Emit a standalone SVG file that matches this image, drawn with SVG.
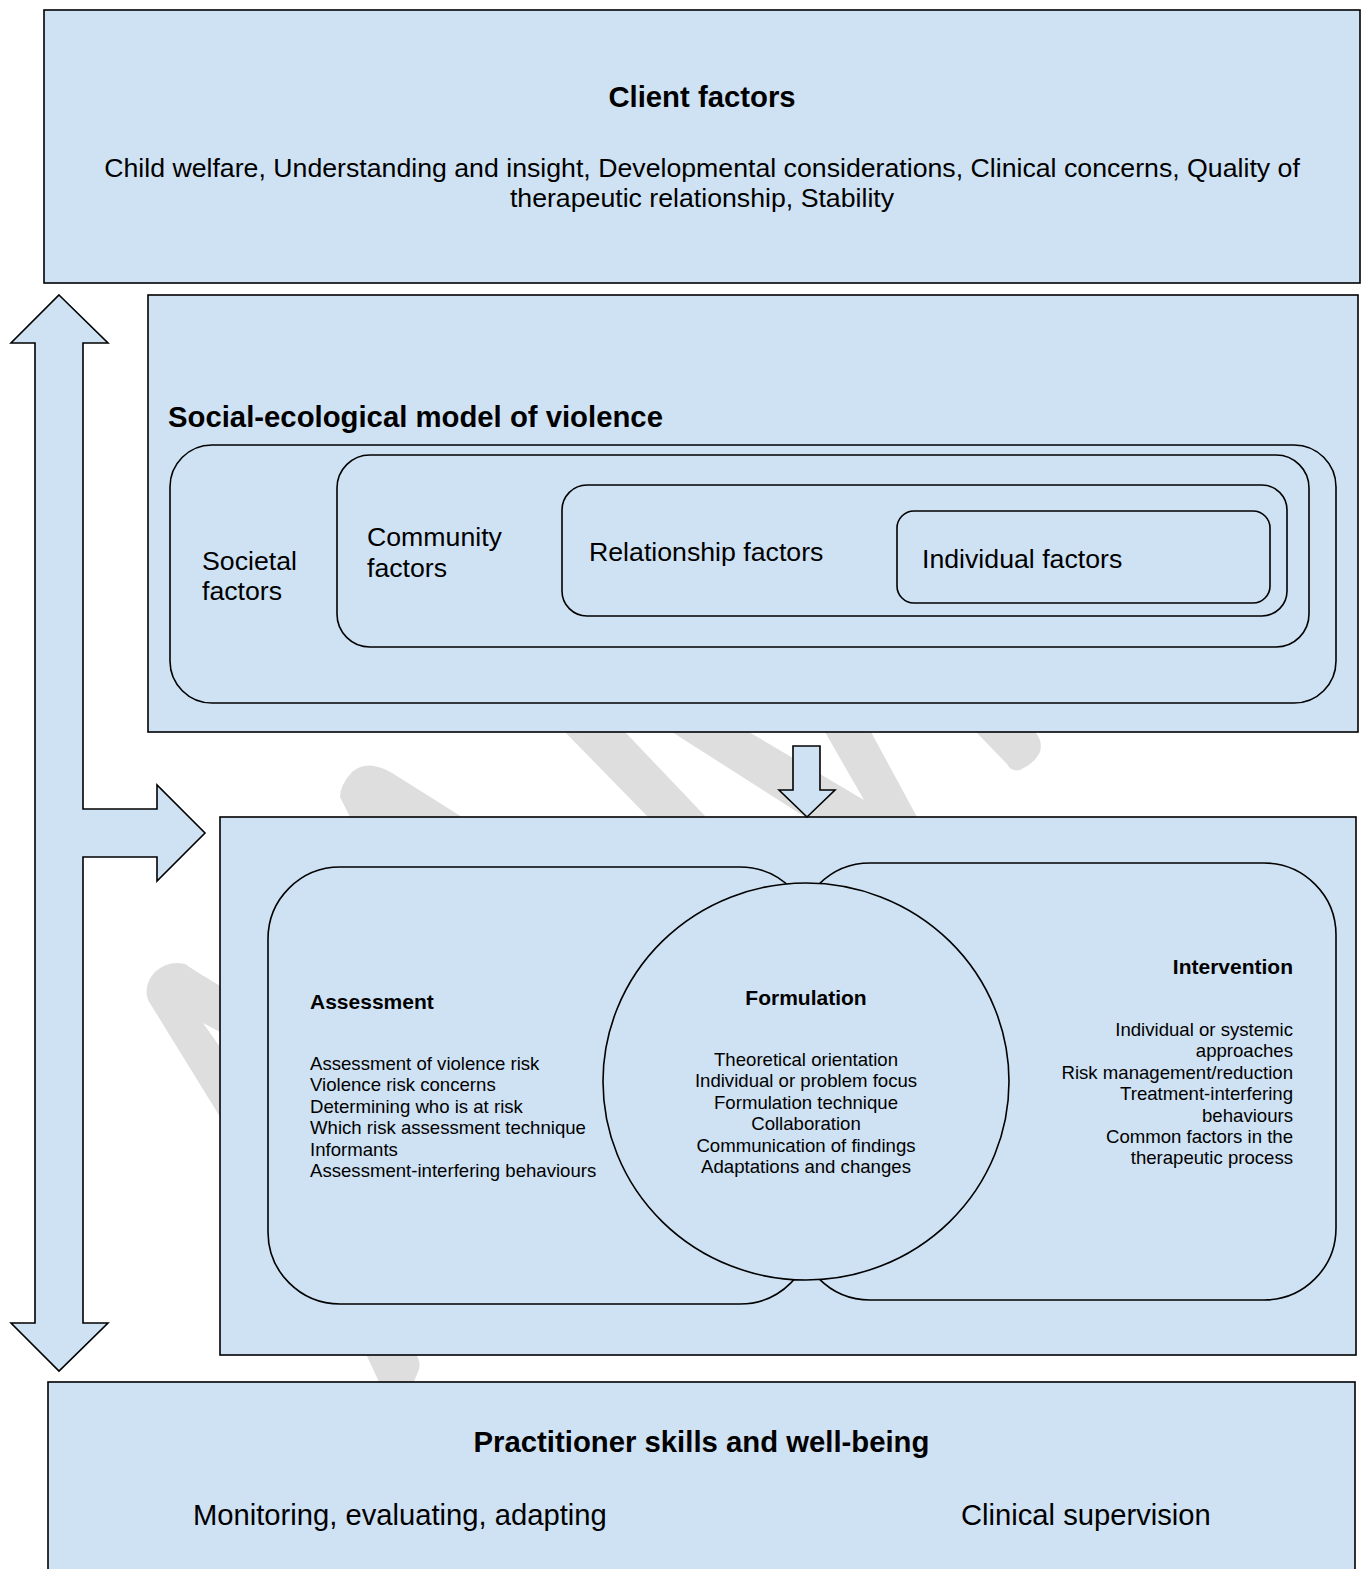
<svg xmlns="http://www.w3.org/2000/svg" width="1367" height="1569" viewBox="0 0 1367 1569">
<style>
  .box { fill: #cfe2f3; stroke: #000; stroke-width: 1.6; }
  .rr { fill: #cfe2f3; stroke: #000; stroke-width: 1.6; }
  .arrow { fill: #cfe2f3; stroke: #000; stroke-width: 1.6; stroke-linejoin: miter; }
  .wm { fill: #dedede; stroke: none; }
  text { font-family: "Liberation Sans", Arial, sans-serif; fill: #000; }
  .t29b { font-size: 29.3px; font-weight: bold; }
  .t29 { font-size: 29.2px; }
  .t26 { font-size: 26.7px; }
  .t21b { font-size: 21px; font-weight: bold; }
  .t18 { font-size: 18.6px; }
</style>
<rect x="0" y="0" width="1367" height="1569" fill="#ffffff"/>

<!-- background watermark shapes (visible only in gaps) -->
<g id="watermark">
  <path class="wm" d="M350,817 L340,797 Q340,785 352,772 Q362,764 374,766 Q384,768 392,773 L462,817 Z"/>
  <path class="wm" d="M565,732 L625,732 L706,817 L648,817 Z"/>
  <path class="wm" d="M672,732 L749,732 L864,800 L825,732 L871,732 L917,817 L805,817 Z"/>
  <path class="wm" d="M976,732 L1035,732 Q1043,740 1040,752 Q1034,764 1020,770 Q1011,772 1007,764 Z"/>
  <path class="wm" d="M148,1000 Q143,985 155,972 Q168,960 185,964 L197,972 L222,987 L222,1033 L203,1023 L222,1050 L222,1120 Z"/>
  <path class="wm" d="M366,1354 L416,1354 Q422,1364 418,1372 L413,1384 L380,1384 Z"/>
</g>

<g id="client-factors">
  <rect class="box" x="44" y="10" width="1316" height="273"/>
  <text class="t29b" x="702" y="107" text-anchor="middle">Client factors</text>
  <text class="t26" x="702" y="177" text-anchor="middle">Child welfare, Understanding and insight, Developmental considerations, Clinical concerns, Quality of</text>
  <text class="t26" x="702" y="207" text-anchor="middle">therapeutic relationship, Stability</text>
</g>

<g id="social-ecological-model">
  <rect class="box" x="148" y="295" width="1210" height="437"/>
  <text class="t29b" x="168" y="427">Social-ecological model of violence</text>
  <g id="societal-factors">
    <rect class="rr" x="170" y="445" width="1166" height="258" rx="42" ry="42"/>
    <text class="t26" x="202" y="570">Societal</text>
    <text class="t26" x="202" y="600">factors</text>
  </g>
  <g id="community-factors">
    <rect class="rr" x="337" y="455" width="972" height="192" rx="33" ry="33"/>
    <text class="t26" x="367" y="546">Community</text>
    <text class="t26" x="367" y="577">factors</text>
  </g>
  <g id="relationship-factors">
    <rect class="rr" x="562" y="485" width="725" height="131" rx="25" ry="25"/>
    <text class="t26" x="589" y="561">Relationship factors</text>
  </g>
  <g id="individual-factors">
    <rect class="rr" x="897" y="511" width="373" height="92" rx="17" ry="17"/>
    <text class="t26" x="922" y="568">Individual factors</text>
  </g>
</g>

<g id="practice-process">
  <rect class="box" x="220" y="817" width="1136" height="538"/>
  <g id="assessment">
    <rect class="rr" x="268" y="867" width="544" height="437" rx="72" ry="72"/>
    <text class="t21b" x="310" y="1009">Assessment</text>
    <text class="t18" x="310" y="1070">Assessment of violence risk</text>
    <text class="t18" x="310" y="1091.4">Violence risk concerns</text>
    <text class="t18" x="310" y="1112.8">Determining who is at risk</text>
    <text class="t18" x="310" y="1134.2">Which risk assessment technique</text>
    <text class="t18" x="310" y="1155.6">Informants</text>
    <text class="t18" x="310" y="1177">Assessment-interfering behaviours</text>
  </g>
  <g id="intervention">
    <rect class="rr" x="798" y="863" width="538" height="437" rx="72" ry="72"/>
    <text class="t21b" x="1293" y="974" text-anchor="end">Intervention</text>
    <text class="t18" x="1293" y="1036" text-anchor="end">Individual or systemic</text>
    <text class="t18" x="1293" y="1057.4" text-anchor="end">approaches</text>
    <text class="t18" x="1293" y="1078.8" text-anchor="end">Risk management/reduction</text>
    <text class="t18" x="1293" y="1100.2" text-anchor="end">Treatment-interfering</text>
    <text class="t18" x="1293" y="1121.6" text-anchor="end">behaviours</text>
    <text class="t18" x="1293" y="1143" text-anchor="end">Common factors in the</text>
    <text class="t18" x="1293" y="1164.4" text-anchor="end">therapeutic process</text>
  </g>
  <g id="formulation">
    <ellipse class="rr" cx="806" cy="1081.5" rx="203" ry="198.5"/>
    <text class="t21b" x="806" y="1005" text-anchor="middle">Formulation</text>
    <text class="t18" x="806" y="1066" text-anchor="middle">Theoretical orientation</text>
    <text class="t18" x="806" y="1087.4" text-anchor="middle">Individual or problem focus</text>
    <text class="t18" x="806" y="1108.8" text-anchor="middle">Formulation technique</text>
    <text class="t18" x="806" y="1130.2" text-anchor="middle">Collaboration</text>
    <text class="t18" x="806" y="1151.6" text-anchor="middle">Communication of findings</text>
    <text class="t18" x="806" y="1173" text-anchor="middle">Adaptations and changes</text>
  </g>
</g>

<g id="practitioner-skills">
  <rect class="box" x="48" y="1382" width="1307" height="200"/>
  <text class="t29b" x="701.5" y="1452" text-anchor="middle">Practitioner skills and well-being</text>
  <text class="t29" x="193" y="1525">Monitoring, evaluating, adapting</text>
  <text class="t29" x="961" y="1525">Clinical supervision</text>
</g>

<g id="connectors">
  <path class="arrow" d="M59,295 L108,343 L83,343 L83,809 L157,809 L157,785 L205,833 L157,881 L157,857 L83,857 L83,1323 L108,1323 L59,1371 L11,1323 L35,1323 L35,343 L11,343 Z"/>
  <path class="arrow" d="M793,746 L820,746 L820,790 L835,790 L807,817 L779,790 L793,790 Z"/>
</g>
</svg>
